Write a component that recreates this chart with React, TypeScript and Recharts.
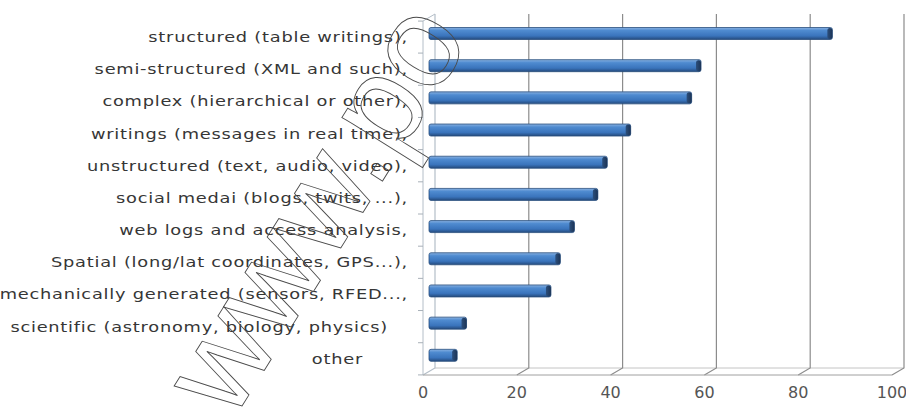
import { BarChart, Bar, XAxis, YAxis, CartesianGrid } from 'recharts';

// data types, as share of respondents (%)
const categories = [
  'structured (table writings),',
  'semi-structured (XML and such),',
  'complex (hierarchical or other),',
  'writings (messages in real time),',
  'unstructured (text, audio, video),',
  'social medai (blogs, twits, ...),',
  'web logs and access analysis,',
  'Spatial (long/lat coordinates, GPS...),',
  'mechanically generated (sensors, RFED...,',
  'scientific (astronomy, biology, physics)',
  'other',
];
const shares = [86, 58, 56, 43, 38, 36, 31, 28, 26, 8, 6];
const xTicks = [0, 20, 40, 60, 80, 100];

const rows = categories.map((name, i) => ({ name, value: shares[i] }));

// depth of the fake 3d box (back wall offset)
const DX = 12;
const DY = 7;
const TEXT = '#363636';

// a couple of labels end further left than the rest
const labelInset: Record<string, number> = {
  'scientific (astronomy, biology, physics)': 27,
  other: 52,
};

const Bar3D = (props: any) => {
  const { x, y, width, height } = props;
  if (!width) return null;
  const bx = x + DX / 2;
  const by = y - DY / 2;
  return (
    <g>
      <rect x={bx} y={by} width={width} height={height} rx={2} fill="url(#barFace)" stroke="#2a4f7e" strokeWidth={0.8} />
      <rect x={bx + width - 5} y={by + 0.5} width={5} height={height - 1} rx={2.5} fill="url(#barCap)" />
    </g>
  );
};

const CategoryTick = (props: any) => {
  const { x, y, payload, index } = props;
  const inset = labelInset[payload.value] ?? 7;
  const half = 16;
  return (
    <g>
      <line x1={x + 3} x2={x + 8} y1={y + half} y2={y + half} stroke="#a8b0b8" />
      {index === 0 && <line x1={x + 3} x2={x + 8} y1={y - half} y2={y - half} stroke="#a8b0b8" />}
      <g transform={`translate(${x - inset},${y}) scale(1.27,1)`}>
        <text x={0} y={0} dy="0.35em" textAnchor="end" fill={TEXT} fontSize={14} letterSpacing={0.6} fontFamily="DejaVu Sans">
          {payload.value}
        </text>
      </g>
    </g>
  );
};

const ValueTick = (props: any) => {
  const { x, y, payload } = props;
  return (
    <text x={x} y={y + 15} textAnchor="middle" fill="#555" fontSize={16} fontFamily="DejaVu Sans">
      {payload.value}
    </text>
  );
};

// gridlines run from the floor front edge back to the wall, then up
const WallLine = (props: any) => {
  const { x1, y1, y2, index, x, width } = props;
  return (
    <g>
      <path d={`M${x1},${y2} L${x1 + DX},${y2 - DY} L${x1 + DX},${y1 - DY}`} fill="none" stroke={index === 0 ? '#b4bec8' : '#8c8c8c'} strokeWidth={1.2} />
      {index === 0 && (
        <>
          <path d={`M${x1},${y1} L${x1 + DX},${y1 - DY}`} fill="none" stroke="#b4bec8" />
          <line x1={x + DX} x2={x + width + DX} y1={y2 - DY} y2={y2 - DY} stroke="#c4c4c4" />
        </>
      )}
    </g>
  );
};

export default function App() {
  return (
    <div style={{ position: 'absolute', left: 0, top: 0, width: 906, height: 408, background: '#fff', overflow: 'hidden' }}>
      <BarChart
        width={906}
        height={408}
        layout="vertical"
        data={rows}
        margin={{ top: 21, right: 14, bottom: 0, left: 0 }}
        barCategoryGap={0}
      >
        <defs>
          <linearGradient id="barFace" x1="0" y1="0" x2="0" y2="1">
            <stop offset="0" stopColor="#8ab2e2" />
            <stop offset="0.25" stopColor="#4f8bd0" />
            <stop offset="0.7" stopColor="#3a74bc" />
            <stop offset="1" stopColor="#244a7c" />
          </linearGradient>
          <linearGradient id="barCap" x1="0" y1="0" x2="1" y2="0">
            <stop offset="0" stopColor="#2c4f7c" />
            <stop offset="1" stopColor="#1c3456" />
          </linearGradient>
        </defs>
        <CartesianGrid horizontal={false} vertical={WallLine} />
        <XAxis
          type="number"
          domain={[0, 100]}
          ticks={xTicks}
          height={33}
          axisLine={{ stroke: '#a0a0a0' }}
          tickLine={false}
          tick={<ValueTick />}
        />
        <YAxis
          type="category"
          dataKey="name"
          width={423}
          axisLine={{ stroke: '#b4bec8' }}
          tickLine={false}
          interval={0}
          tick={<CategoryTick />}
        />
        <Bar dataKey="value" barSize={12} shape={<Bar3D />} isAnimationActive={false} />
      </BarChart>
      <svg width={906} height={408} style={{ position: 'absolute', left: 0, top: 0, pointerEvents: 'none' }}>
        <text
          x={0}
          y={0}
          transform="translate(232,422) rotate(-58)"
          fontSize={129}
          fontFamily="Liberation Sans"
          fill="none"
          stroke="#4a4a4a"
          strokeWidth={0.9}
        >
          www.po
        </text>
      </svg>
    </div>
  );
}
